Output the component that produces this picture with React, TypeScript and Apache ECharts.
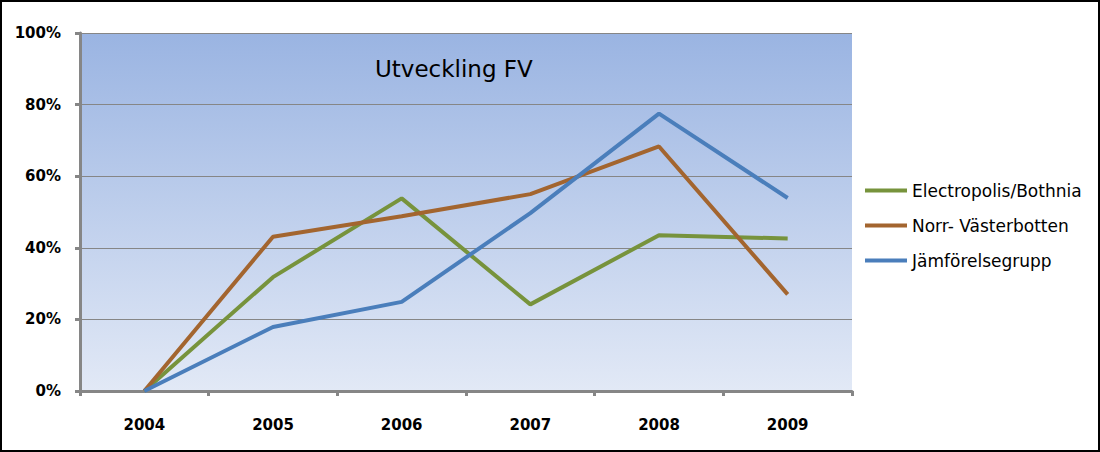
import React, { useEffect, useRef } from "react";
import * as echarts from "echarts";

const years = ["2004", "2005", "2006", "2007", "2008", "2009"];
const electropolis = [0, 31.8, 53.8, 24.2, 43.5, 42.6];
const norrVasterbotten = [0, 43.1, 48.8, 55.0, 68.3, 27.0];
const jamforelsegrupp = [0, 17.9, 24.9, 49.7, 77.5, 53.9];
const seriesNames = ["Electropolis/Bothnia", "Norr- Västerbotten", "Jämförelsegrupp"];
const colors = ["#77933c", "#a3652f", "#4a7ebb"];

export default function App() {
  const ref = useRef<HTMLDivElement>(null);
  useEffect(() => {
    document.body.style.margin = "0";
    const chart = echarts.init(ref.current!, null, { renderer: "svg" });
    const font = "'DejaVu Sans', sans-serif";
    const data = [electropolis, norrVasterbotten, jamforelsegrupp];
    chart.setOption({
      animation: false,
      textStyle: { fontFamily: font },
      grid: { left: 80, right: 248, top: 33, bottom: 61, containLabel: false,
        show: true, borderWidth: 0,
        backgroundColor: new echarts.graphic.LinearGradient(0, 0, 0, 1, [
          { offset: 0, color: "#9ab4e2" },
          { offset: 1, color: "#e2e9f6" },
        ]) },
      graphic: [
        { type: "rect", shape: { x: 1, y: 1, width: 1098, height: 450 }, style: { fill: "none", stroke: "#000", lineWidth: 2 }, silent: true, z: 100 },
        { type: "text", x: 375, y: 57, style: { text: "Utveckling FV", font: `23px ${font}`, fill: "#000" }, z: 50 },
      ],
      legend: {
        orient: "vertical",
        left: 860,
        top: 177,
        itemGap: 18,
        itemWidth: 42,
        itemHeight: 4,
        icon: "rect",
        textStyle: { fontSize: 17, color: "#000", fontFamily: font },
        data: seriesNames,
      },
      xAxis: {
        type: "category",
        data: years,
        boundaryGap: true,
        axisLine: { lineStyle: { color: "#868686", width: 3 } },
        axisTick: { show: true, length: 5, lineStyle: { color: "#868686", width: 3 } },
        axisLabel: { fontSize: 15, fontWeight: "bold", color: "#000", margin: 26, fontFamily: font },
      },
      yAxis: {
        type: "value",
        min: 0,
        max: 100,
        interval: 20,
        axisLine: { show: true, lineStyle: { color: "#868686", width: 3 } },
        axisTick: { show: true, length: 5, lineStyle: { color: "#868686", width: 3 } },
        splitLine: { lineStyle: { color: "#868686", width: 1 } },
        axisLabel: { formatter: "{value}%", fontSize: 15, fontWeight: "bold", color: "#000", margin: 19, fontFamily: font },
      },
      series: seriesNames.map((name, i) => ({
        name,
        type: "line",
        data: data[i],
        symbol: "none",
        lineStyle: { color: colors[i], width: 4 },
        itemStyle: { color: colors[i] },
      })),
    });
    return () => chart.dispose();
  }, []);
  return <div ref={ref} style={{ width: 1100, height: 452 }} />;
}
